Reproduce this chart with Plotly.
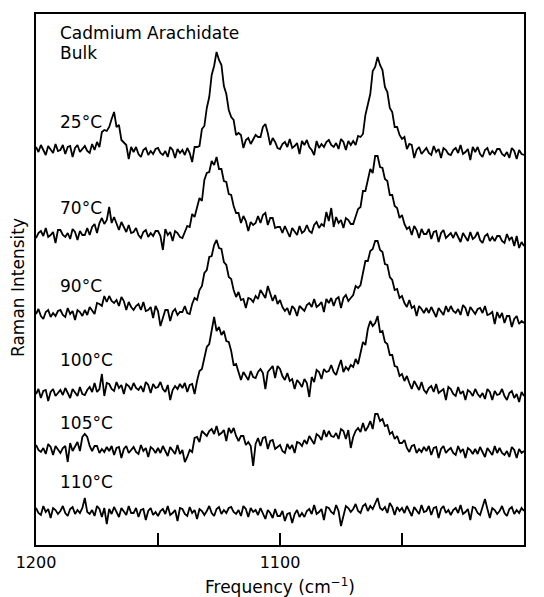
import plotly.graph_objects as go

# Frequency grid (cm^-1), 1 cm^-1 steps from 1200 down to 1000
frequency = list(range(1200, 999, -1))

# Raman intensity (arbitrary units, traces stacked)
s25 = [
    405, 400, 407, 402, 397, 406, 403, 399, 408, 401,
    402, 407, 398, 405, 406, 395, 404, 407, 400, 403,
    406, 401, 399, 408, 402, 410, 405, 420, 422, 421,
    425, 433, 440, 425, 427, 412, 409, 407, 393, 405,
    400, 405, 398, 395, 402, 404, 397, 401, 398, 403,
    404, 399, 397, 401, 395, 405, 402, 394, 403, 399,
    402, 397, 404, 399, 390, 405, 405, 406, 423, 426,
    444, 455, 477, 486, 500, 492, 487, 466, 458, 442,
    435, 432, 417, 419, 417, 404, 412, 414, 408, 412,
    417, 415, 415, 425, 428, 419, 407, 414, 410, 404,
    403, 408, 410, 405, 413, 404, 406, 409, 398, 411,
    407, 412, 405, 402, 397, 411, 404, 408, 405, 410,
    412, 407, 405, 409, 403, 413, 410, 402, 411, 407,
    411, 407, 416, 415, 418, 437, 447, 458, 481, 485,
    495, 487, 482, 465, 460, 444, 440, 425, 425, 417,
    413, 415, 403, 408, 407, 394, 402, 405, 398, 401,
    404, 399, 397, 406, 400, 403, 394, 404, 402, 398,
    397, 402, 404, 399, 407, 398, 400, 403, 392, 405,
    400, 405, 398, 395, 402, 404, 397, 401, 398, 403,
    403, 398, 396, 400, 394, 404, 401, 393, 402, 398,
    397,
]
s70 = [
    314, 319, 321, 316, 324, 315, 317, 320, 309, 322,
    322, 317, 315, 319, 313, 323, 320, 312, 321, 317,
    317, 324, 317, 325, 328, 319, 329, 334, 328, 332,
    345, 329, 335, 329, 322, 330, 325, 320, 327, 319,
    320, 324, 317, 314, 320, 322, 315, 319, 316, 321,
    321, 316, 302, 323, 317, 320, 311, 321, 319, 315,
    314, 321, 326, 325, 338, 335, 344, 354, 351, 372,
    379, 380, 391, 387, 395, 383, 383, 371, 370, 358,
    357, 346, 339, 339, 329, 336, 331, 321, 330, 327,
    329, 336, 329, 337, 339, 327, 334, 334, 324, 325,
    325, 319, 326, 321, 315, 324, 321, 317, 326, 319,
    321, 327, 321, 319, 327, 330, 324, 328, 326, 340,
    331, 344, 325, 335, 329, 332, 324, 334, 332, 328,
    328, 336, 343, 345, 361, 361, 372, 383, 379, 396,
    396, 385, 384, 373, 371, 357, 357, 346, 344, 334,
    337, 328, 323, 325, 317, 326, 322, 314, 323, 318,
    318, 323, 313, 320, 321, 310, 319, 322, 314, 317,
    319, 314, 320, 315, 310, 319, 315, 311, 320, 313,
    315, 320, 312, 309, 316, 318, 311, 315, 311, 316,
    316, 311, 309, 318, 312, 315, 306, 316, 304, 310,
    306,
]
s90 = [
    238, 243, 236, 233, 240, 242, 235, 239, 236, 241,
    242, 237, 235, 244, 238, 241, 232, 242, 240, 236,
    242, 237, 245, 241, 238, 249, 248, 246, 256, 250,
    256, 251, 249, 252, 246, 255, 251, 242, 250, 245,
    242, 246, 248, 242, 250, 241, 242, 245, 234, 246,
    241, 226, 235, 242, 242, 231, 240, 243, 237, 240,
    240, 246, 239, 238, 248, 254, 252, 262, 266, 279,
    282, 295, 296, 307, 312, 304, 303, 290, 287, 275,
    273, 262, 255, 260, 252, 253, 244, 254, 253, 250,
    256, 253, 262, 258, 254, 266, 258, 251, 257, 248,
    252, 245, 241, 244, 237, 246, 243, 236, 246, 243,
    241, 247, 249, 245, 253, 245, 247, 250, 240, 253,
    249, 254, 246, 253, 255, 244, 254, 257, 251, 254,
    257, 266, 264, 267, 281, 291, 291, 301, 303, 311,
    311, 302, 300, 288, 287, 275, 272, 262, 263, 254,
    256, 249, 245, 252, 244, 246, 236, 246, 243, 239,
    244, 239, 245, 240, 235, 244, 241, 237, 246, 240,
    246, 241, 239, 243, 237, 247, 244, 236, 245, 241,
    238, 243, 244, 239, 246, 237, 238, 240, 228, 240,
    234, 239, 229, 236, 236, 225, 233, 236, 228, 231,
    229,
]
s100 = [
    158, 163, 154, 161, 162, 151, 160, 163, 156, 159,
    162, 157, 164, 159, 154, 163, 160, 156, 165, 158,
    157, 162, 165, 160, 169, 160, 163, 178, 156, 169,
    168, 163, 161, 170, 164, 167, 158, 168, 166, 162,
    169, 164, 162, 166, 160, 170, 167, 159, 168, 164,
    165, 170, 163, 160, 167, 152, 162, 166, 163, 168,
    164, 169, 160, 167, 168, 158, 171, 181, 183, 195,
    205, 208, 222, 235, 221, 225, 217, 221, 211, 210,
    201, 187, 188, 179, 172, 180, 176, 172, 181, 175,
    174, 180, 183, 179, 163, 180, 183, 186, 174, 186,
    183, 176, 172, 179, 171, 173, 163, 172, 169, 165,
    173, 169, 155, 175, 170, 182, 180, 173, 183, 180,
    181, 187, 180, 177, 185, 192, 180, 185, 182, 187,
    185, 193, 188, 201, 210, 207, 223, 231, 226, 229,
    236, 220, 221, 210, 208, 197, 197, 186, 185, 176,
    178, 171, 176, 169, 163, 171, 167, 162, 170, 162,
    159, 164, 166, 160, 168, 159, 161, 163, 152, 165,
    163, 158, 156, 165, 158, 161, 152, 162, 160, 156,
    163, 158, 155, 159, 153, 163, 160, 152, 161, 157,
    158, 163, 156, 152, 159, 161, 154, 158, 150, 160,
    156,
]
s105 = [
    107, 102, 100, 104, 98, 108, 105, 97, 106, 102,
    99, 104, 106, 90, 109, 101, 105, 110, 101, 115,
    118, 115, 106, 101, 106, 106, 99, 103, 100, 105,
    101, 106, 97, 104, 105, 94, 103, 106, 99, 102,
    105, 100, 98, 107, 101, 104, 95, 105, 103, 99,
    104, 99, 106, 101, 96, 105, 102, 98, 107, 98,
    102, 90, 95, 102, 100, 114, 115, 110, 121, 118,
    116, 121, 123, 118, 126, 117, 119, 122, 111, 124,
    119, 124, 116, 111, 116, 116, 107, 110, 106, 86,
    108, 114, 106, 114, 115, 103, 111, 112, 103, 105,
    107, 101, 99, 108, 103, 107, 99, 110, 109, 106,
    112, 108, 116, 112, 108, 118, 116, 112, 122, 115,
    121, 116, 115, 119, 113, 123, 121, 113, 122, 104,
    115, 121, 124, 120, 129, 121, 125, 131, 123, 138,
    138, 131, 133, 126, 127, 118, 120, 113, 116, 109,
    109, 112, 104, 100, 106, 107, 99, 103, 100, 105,
    101, 106, 97, 104, 105, 94, 103, 106, 99, 102,
    104, 99, 97, 106, 100, 103, 94, 104, 102, 98,
    103, 98, 105, 100, 95, 104, 101, 97, 106, 99,
    104, 99, 97, 101, 95, 105, 102, 94, 103, 99,
    101,
]
s110 = [
    44, 39, 37, 46, 40, 43, 34, 44, 42, 38,
    41, 46, 39, 36, 43, 45, 38, 42, 39, 44,
    54, 40, 38, 42, 36, 46, 43, 35, 44, 28,
    43, 38, 45, 40, 35, 44, 41, 37, 46, 39,
    39, 44, 35, 42, 43, 32, 41, 44, 37, 40,
    36, 41, 43, 38, 46, 37, 39, 42, 31, 44,
    43, 38, 36, 45, 39, 42, 33, 43, 41, 37,
    41, 46, 39, 36, 43, 45, 38, 42, 39, 44,
    45, 40, 38, 42, 36, 46, 43, 35, 44, 40,
    42, 37, 44, 38, 33, 42, 39, 34, 43, 36,
    36, 41, 31, 38, 39, 29, 38, 42, 35, 39,
    35, 41, 43, 38, 47, 38, 40, 43, 32, 45,
    44, 40, 38, 47, 41, 26, 35, 46, 44, 40,
    43, 48, 41, 39, 46, 48, 41, 46, 43, 48,
    54, 44, 42, 45, 39, 49, 45, 37, 45, 41,
    44, 39, 46, 41, 36, 45, 42, 38, 47, 40,
    41, 46, 37, 44, 45, 34, 43, 46, 39, 42,
    37, 42, 44, 39, 47, 38, 40, 43, 32, 45,
    44, 39, 37, 46, 53, 43, 34, 44, 42, 38,
    41, 46, 39, 36, 43, 45, 38, 42, 39, 44,
    41,
]

series = [("25°C", s25), ("70°C", s70), ("90°C", s90),
          ("100°C", s100), ("105°C", s105), ("110°C", s110)]

# label positions (frequency, intensity) for the temperature labels
label_x = 1191
label_y = [430, 344, 266, 192, 129, 70]
title_y = [519, 499]

FONT = "DejaVu Sans"

fig = go.Figure()
for name, vals in series:
    fig.add_trace(go.Scatter(x=frequency[:len(vals)], y=vals, mode="lines",
                             line=dict(color="black", width=1.8),
                             name=name, showlegend=False, hoverinfo="skip"))

annotations = [
    dict(x=label_x, y=title_y[0], xref="x", yref="y", text="Cadmium Arachidate",
         showarrow=False, xanchor="left", yanchor="middle",
         font=dict(family=FONT, size=17, color="black")),
    dict(x=label_x, y=title_y[1], xref="x", yref="y", text="Bulk",
         showarrow=False, xanchor="left", yanchor="middle",
         font=dict(family=FONT, size=17, color="black")),
]
for (name, _), ly in zip(series, label_y):
    annotations.append(dict(x=label_x, y=ly, xref="x", yref="y", text=name,
                            showarrow=False, xanchor="left", yanchor="middle",
                            font=dict(family=FONT, size=17, color="black")))
annotations.append(dict(x=0.5, y=0, xref="paper", yref="paper",
                        text="Frequency (cm<sup>−1</sup>)", showarrow=False,
                        xanchor="center", yanchor="middle", yshift=-41,
                        font=dict(family=FONT, size=17, color="black")))
annotations.append(dict(x=0, y=0.5, xref="paper", yref="paper",
                        text="Raman Intensity", showarrow=False, textangle=-90,
                        xanchor="center", yanchor="middle", xshift=-18.5,
                        yshift=-8,
                        font=dict(family=FONT, size=17, color="black")))

fig.update_layout(
    width=544, height=597,
    margin=dict(l=36, r=20, t=14, b=52),
    paper_bgcolor="white", plot_bgcolor="white",
    annotations=annotations,
    xaxis=dict(range=[1200, 1000], showgrid=False, zeroline=False,
               showline=True, linecolor="black", linewidth=2, mirror=True,
               ticks="inside", ticklen=12, tickwidth=1.5, tickcolor="black",
               tickvals=[1200, 1150, 1100, 1050, 1000],
               ticktext=["1200", "", "1100", "", "1000"],
               ticklabelstandoff=2,
               tickfont=dict(family=FONT, size=16, color="black")),
    yaxis=dict(range=[7, 538], showgrid=False, zeroline=False,
               showline=True, linecolor="black", linewidth=2, mirror=True,
               showticklabels=False, ticks=""),
)

fig.write_html("out.html")
